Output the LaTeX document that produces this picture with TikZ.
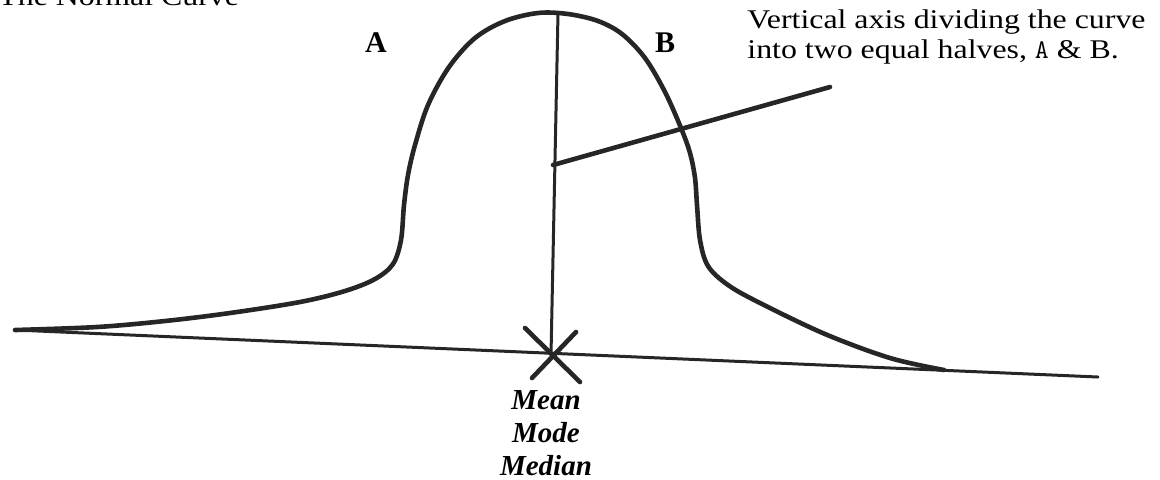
\documentclass[tikz,border=0pt]{standalone}
\usepackage{fontspec}
\setmainfont[FakeStretch=1.18]{Liberation Serif}
\newfontfamily\plainserif{Liberation Serif}
\usetikzlibrary{positioning}

\begin{document}
\begin{tikzpicture}[
    x=0.5pt, y=-0.5pt,
    every node/.style={inner sep=0pt, font=\fontsize{13.5}{15}\selectfont},
    curveline/.style={line width=2.3pt, line cap=round, draw=black!85},
    axisline/.style={line width=1.5pt, line cap=round, draw=black!85},
    halflabel/.style={font=\plainserif\fontsize{15}{17}\selectfont\bfseries}
  ]
  \useasboundingbox (0,0) rectangle (1160,479);
  \clip (0,0) rectangle (1160,479);

  % title, cut off at the top
  \node[anchor=base west] (title) at (-2,5) {The Normal Curve};

  % the bell
  \draw[curveline] plot[smooth, tension=0.55] coordinates {
    (15,330) (97,327) (165,321) (230,313) (300,302) (345,291) (375,279)
    (393,264) (401,240) (404,205) (408,175) (415,145) (428,105) (449,67)
    (475,38) (505,21) (538,13) (568,14) (598,21) (622,34) (645,58)
    (665,92) (681,128) (690,153) (695,178) (697,205) (700,240) (708,266)
    (728,285) (760,303) (825,334) (890,358) (944,370)};

  % base line
  \draw[axisline] (15,330) -- (1098,377);

  % mean / mode / median mark
  \coordinate (cross) at (551,355);
  \draw[curveline] (525,328) -- (580,382);
  \draw[curveline] (576,332) -- (532,378);

  % vertical axis and pointer
  \coordinate (peak) at (558,13);
  \coordinate (split) at (553,165);
  \coordinate (tip) at (830,87);
  \draw[axisline] (peak) -- (cross);
  \draw[curveline] (split) -- (tip);

  \node[halflabel] (halfA) at (376,43) {A};
  \node[halflabel] (halfB) at (665,43) {B};

  \node[anchor=north west, align=left] (note) at (747,9)
    {Vertical axis dividing the curve\\into two equal halves, {\ttfamily A} \& B.};

  \node[anchor=north, align=center,
        font=\plainserif\fontsize{14.5}{16.4}\selectfont\bfseries\itshape]
    (centre) at (546,390) {Mean\\Mode\\Median};
\end{tikzpicture}
\end{document}
